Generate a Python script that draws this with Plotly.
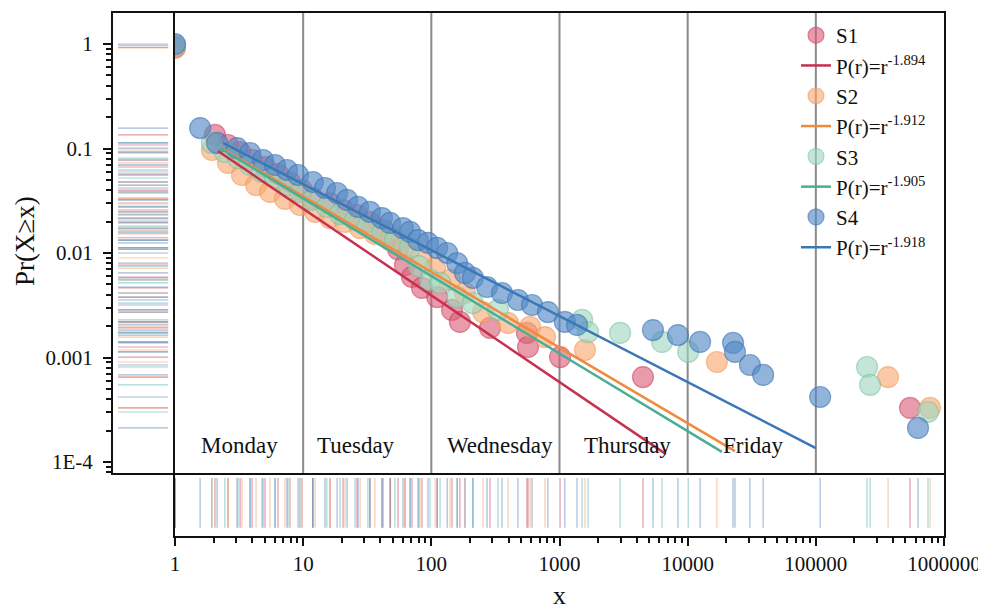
import plotly.graph_objects as go

# ---------------- data ----------------
series_names = ["S1", "S2", "S3", "S4"]
fit_labels = ["P(r)=r<sup>-1.894</sup>", "P(r)=r<sup>-1.912</sup>",
              "P(r)=r<sup>-1.905</sup>", "P(r)=r<sup>-1.918</sup>"]

s1_x = [1, 2.05, 2.59, 3.22, 3.99, 5.04, 6.36, 7.89, 9.8, 11.9, 16.2, 20.5, 26.3,
        33.2, 42.0, 48.0, 55.0, 62.3, 70.6, 84.6, 111, 145, 167, 287, 557, 568,
        1010, 4480, 543000]
s1_y = [0.93, 0.135, 0.108, 0.0926, 0.0776, 0.0665, 0.057, 0.0478, 0.040, 0.0336,
        0.0301, 0.0258, 0.0231, 0.0198, 0.0166, 0.0140, 0.0108, 0.00768, 0.00589,
        0.00463, 0.00379, 0.00285, 0.00219, 0.00192, 0.00172, 0.00126, 0.00101,
        0.00065, 0.000329]

s2_x = [1, 1.94, 2.59, 3.33, 4.29, 5.51, 7.21, 9.44, 12.4, 16.2, 21.2, 27.8, 36.3,
        47.6, 62.3, 81.6, 107, 140, 183, 253, 396, 589, 771, 1580, 16900, 366000,
        778000]
s2_y = [0.92, 0.0968, 0.0727, 0.0558, 0.0447, 0.0384, 0.0329, 0.0288, 0.0247,
        0.0216, 0.0198, 0.0173, 0.0152, 0.0133, 0.0112, 0.00896, 0.00718, 0.00552,
        0.00414, 0.00272, 0.00214, 0.00196, 0.00157, 0.00118, 0.000906, 0.00065,
        0.000329]

s3_x = [1, 1.94, 2.45, 3.10, 3.85, 4.77, 6.03, 7.62, 9.44, 11.9, 15.3, 19.4, 25.4,
        32.0, 41.2, 52.0, 68.2, 80.0, 97.7, 117, 159, 211, 331, 1500, 1670, 2970,
        6310, 10100, 251000, 265000, 750000]
s3_y = [0.97, 0.113, 0.0926, 0.081, 0.0695, 0.0596, 0.0522, 0.0447, 0.0384, 0.0322,
        0.0276, 0.0236, 0.0207, 0.0181, 0.0155, 0.0133, 0.0112, 0.0075, 0.00552,
        0.00517, 0.00379, 0.00332, 0.00285, 0.00229, 0.00175, 0.00172, 0.00141,
        0.00113, 0.000811, 0.000546, 0.000301]

s4_x = [1, 1.57, 2.13, 3.05, 3.85, 4.86, 6.03, 7.48, 9.12, 11.9, 14.8, 18.4, 22.0,
        26.8, 33.2, 41.2, 47.6, 60.1, 68.2, 78.7, 94.2, 111, 133, 159, 183, 211, 272,
        356, 474, 610, 812, 1100, 1370, 5360, 8400, 12500, 22600, 23400, 30600,
        38800, 108000, 627000]
s4_y = [1.0, 0.157, 0.113, 0.101, 0.0906, 0.0776, 0.0695, 0.0623, 0.0558, 0.0478,
        0.0419, 0.0375, 0.0322, 0.0276, 0.0247, 0.0216, 0.0194, 0.0173, 0.0159,
        0.0133, 0.0125, 0.0112, 0.0100, 0.0080, 0.00644, 0.00577, 0.00473, 0.00414,
        0.00355, 0.00318, 0.00272, 0.00219, 0.00205, 0.00183, 0.00164, 0.00141,
        0.00138, 0.00113, 0.000848, 0.000681, 0.000419, 0.000212]

# fitted power-law lines: [start, end]
fit_x = [[2.16, 6770], [2.24, 23400], [2.24, 18500], [2.37, 100000]]
fit_y = [[0.0946, 1.19e-4], [0.103, 1.27e-4], [0.101, 1.25e-4], [0.113, 1.36e-4]]

day_names = ["Monday", "Tuesday", "Wednesday", "Thursday", "Friday"]
day_pos_log = [0.5, 1.41, 2.535, 3.53, 4.51]
day_boundaries = [10, 100, 1000, 10000, 100000]

x_tickvals = [1, 10, 100, 1000, 10000, 100000, 1000000]
x_ticktext = ["1", "10", "100", "1000", "10000", "100000", "1000000"]
y_tickvals = [1, 0.1, 0.01, 0.001, 0.0001]
y_ticktext = ["1", "0.1", "0.01", "0.001", "1E-4"]

# ---------------- styles ----------------
marker_fill = ["rgba(217,94,120,0.62)", "rgba(249,168,112,0.62)",
               "rgba(160,214,190,0.62)", "rgba(84,138,198,0.64)"]
marker_edge = ["rgba(200,60,90,0.55)", "rgba(240,150,90,0.55)",
               "rgba(120,190,160,0.55)", "rgba(60,115,180,0.6)"]
line_col = ["#c8304f", "#ef8a3f", "#4aae97", "#3a78b5"]
rug_col = ["rgba(205,70,95,0.55)", "rgba(240,160,100,0.55)",
           "rgba(90,180,175,0.55)", "rgba(90,130,190,0.55)"]

FONT = "Liberation Serif, Times New Roman, serif"
# page body has an 8px margin, so the figure is placed 8px in from the window
W, H = 978, 602
OFF = 8


def fx(px):
    return (px - OFF) / W


def fy(py):
    return 1 - (py - OFF) / H


xl, xr, xrug = fx(175), fx(944), fx(113)
yt, yb, yrug = fy(13), fy(473), fy(536)

xs = [s1_x, s2_x, s3_x, s4_x]
ys = [s1_y, s2_y, s3_y, s4_y]

fig = go.Figure()

# scatter markers
for i in range(4):
    fig.add_trace(go.Scatter(
        x=xs[i], y=ys[i], mode="markers",
        name=series_names[i] + "<sup>&#8203;</sup>",
        legendrank=2 * i + 1, xaxis="x", yaxis="y",
        marker=dict(size=21, color=marker_fill[i],
                    line=dict(color=marker_edge[i], width=1.2))))
# fit lines
for i in range(4):
    fig.add_trace(go.Scatter(
        x=fit_x[i], y=fit_y[i], mode="lines", name=fit_labels[i],
        legendrank=2 * i + 2, xaxis="x", yaxis="y",
        line=dict(color=line_col[i], width=2.5)))

# left rug (y values)
for i in range(4):
    rx, ry = [], []
    for v in ys[i]:
        rx += [0.08, 0.89, None]
        ry += [v, v, None]
    fig.add_trace(go.Scatter(x=rx, y=ry, mode="lines", showlegend=False,
                             hoverinfo="skip", xaxis="x2", yaxis="y2",
                             line=dict(color=rug_col[i], width=1.2)))
# bottom rug (x values)
for i in range(4):
    rx, ry = [], []
    for v in xs[i]:
        rx += [v, v, None]
        ry += [0.13, 0.92, None]
    fig.add_trace(go.Scatter(x=rx, y=ry, mode="lines", showlegend=False,
                             hoverinfo="skip", xaxis="x3", yaxis="y3",
                             line=dict(color=rug_col[i], width=1.2)))

# vertical day boundaries
for b in day_boundaries:
    fig.add_shape(type="line", xref="x", yref="y domain", x0=b, x1=b, y0=0, y1=1,
                  line=dict(color="#8a8a8a", width=2), layer="below")

# day labels
for name, p in zip(day_names, day_pos_log):
    fig.add_annotation(x=p, y=-3.84, xref="x", yref="y", text=name,
                       showarrow=False, xanchor="center", yanchor="middle",
                       font=dict(family=FONT, size=23, color="#111"))

# axis titles
fig.add_annotation(x=fx(25), y=fy(241), xref="paper", yref="paper",
                   text="Pr(X≥x)", textangle=-90, showarrow=False,
                   xanchor="center", yanchor="middle",
                   font=dict(family=FONT, size=27, color="#111"))
fig.add_annotation(x=fx(559), y=fy(595), xref="paper", yref="paper",
                   text="x", showarrow=False, xanchor="center", yanchor="middle",
                   font=dict(family=FONT, size=26, color="#111"))

base = dict(showline=True, linecolor="#111", linewidth=2,
            showgrid=False, zeroline=False, automargin=False)
yrange = [-4.1053, 0.2967]

fig.update_layout(
    template="none",
    width=W, height=H, margin=dict(l=0, r=0, t=0, b=0, pad=0, autoexpand=False),
    paper_bgcolor="white", plot_bgcolor="white",
    font=dict(family=FONT, size=21, color="#111"),
    showlegend=True,
    legend=dict(x=fx(796), y=fy(15), xanchor="left", yanchor="top",
                bgcolor="rgba(0,0,0,0)", font=dict(family=FONT, size=21),
                tracegroupgap=0, borderwidth=0),
    xaxis=dict(domain=[xl, xr], type="log", range=[0, 6], anchor="y",
               mirror=True, showticklabels=False, ticks="", **base),
    yaxis=dict(domain=[yb, yt], type="log", range=yrange, anchor="x",
               mirror=True, showticklabels=False, ticks="", **base),
    xaxis2=dict(domain=[xrug, xl], range=[0, 1], anchor="y2",
                mirror=True, showticklabels=False, ticks="", **base),
    yaxis2=dict(domain=[yb, yt], type="log", range=yrange, anchor="x2",
                mirror=False,
                tickmode="array", tickvals=y_tickvals, ticktext=y_ticktext,
                ticks="outside", ticklen=8, tickwidth=2, tickcolor="#111",
                ticklabelstandoff=6,
                tickfont=dict(family=FONT, size=21),
                minor=dict(ticks="outside", ticklen=5, tickwidth=1.5,
                           tickcolor="#111", dtick="D1", showgrid=False),
                **base),
    xaxis3=dict(domain=[xl, xr], type="log", range=[0, 6], anchor="y3",
                mirror=False,
                tickmode="array", tickvals=x_tickvals, ticktext=x_ticktext,
                ticks="outside", ticklen=8, tickwidth=2, tickcolor="#111",
                tickfont=dict(family=FONT, size=21),
                minor=dict(ticks="outside", ticklen=5, tickwidth=1.5,
                           tickcolor="#111", dtick="D1", showgrid=False),
                **base),
    yaxis3=dict(domain=[yrug, yb], range=[0, 1], anchor="x3",
                mirror=True, showticklabels=False, ticks="", **base),
)

fig.write_html("out.html")
